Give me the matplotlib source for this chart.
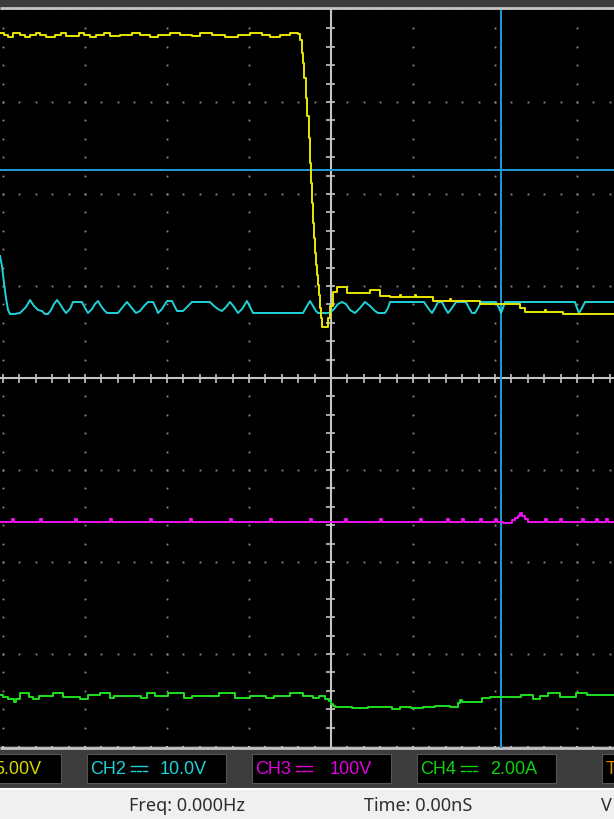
"""
capture d'ecran oscillo : 4 voies + curseurs, rendue en out.png (614x819)
"""
import numpy as np
import matplotlib
matplotlib.use("Agg")
import matplotlib.pyplot as plt
from matplotlib.patches import Rectangle

W, H = 614, 819
TRIG_IDX = 331          # echantillon au centre de l'ecran
SAMPLES_PER_DIV = 82
ZERO_ROW = 378          # ligne ecran du zero
COUNTS_PER_DIV = 92
TOP_ROW, BOTTOM_ROW = 10, 746

# couleurs
BG = "#3c3c3c"
YELLOW = "#e8e800"
CYAN = "#20d2d8"
MAGENTA = "#f010f0"
GREEN = "#20e020"
CURSOR = "#1e9bd7"
GRID = "#8c8c8c"
AXIS = "#c4c4c4"

# CH1 (jaune) : index echantillon / comptes au dessus du zero
ch1_idx = [0, 4, 8, 13, 20, 25, 30, 36, 40, 46, 55, 61, 66, 79, 84, 90, 96, 104, 110, 120,
           132, 140, 150, 158, 170, 180, 192, 200, 212, 225, 238, 250, 262, 270, 280, 290, 298,
           300, 302, 303, 304, 306, 307, 309, 310, 311, 312, 313, 314, 315, 316, 317, 318, 319,
           320, 321, 322, 328, 330, 333, 337, 347, 370, 380, 390, 400, 401, 415, 416, 433, 450,
           451, 480, 520, 525, 545, 546, 563, 614]
ch1_cnt = [345, 343, 341, 345, 343, 341, 343, 345, 343, 341, 343, 345, 342, 345, 343, 341, 343, 345, 342, 343,
           345, 343, 341, 343, 345, 343, 342, 345, 343, 341, 343, 345, 343, 341, 343, 345, 344,
           338, 325, 315, 300, 280, 262, 240, 215, 195, 175, 155, 140, 125, 113, 103, 93, 83,
           70, 60, 51, 60, 72, 86, 91, 85, 88, 82, 81, 83, 81, 83, 81, 77, 79,
           77, 74, 70, 66, 68, 66, 64, 64]

# CH2 (cyan)
ch2_idx = [0, 2, 4, 6, 8, 10, 14, 20, 22, 26, 30, 34, 38, 42, 45, 48, 51, 54, 57, 60, 63, 66, 70, 73, 82,
           85, 88, 92, 95, 98, 101, 104, 107, 118, 122, 127, 131, 136, 140, 144, 148, 153, 156, 158,
           162, 165, 167, 172, 175, 177, 183, 186, 190, 192, 210, 214, 218, 222, 226, 230, 234, 238,
           242, 247, 250, 253, 303, 307, 310, 313, 316, 318, 330, 334, 338, 342, 346, 350, 355, 360,
           365, 370, 375, 378, 385, 388, 390, 424, 428, 432, 435, 438, 442, 445, 448, 452, 456, 466,
           469, 472, 475, 478, 481, 496, 499, 501, 503, 505, 575, 577, 579, 582, 585, 614]
ch2_cnt = [122, 112, 95, 80, 68, 64, 64, 65, 67, 71, 78, 72, 68, 67, 64, 64, 68, 74, 78, 74, 69, 65, 69, 76, 76,
           70, 65, 69, 74, 77, 72, 68, 65, 65, 70, 76, 71, 65, 67, 72, 76, 76, 70, 65,
           69, 74, 77, 77, 71, 67, 67, 70, 74, 76, 76, 72, 69, 67, 71, 76, 71, 65,
           69, 77, 71, 65, 65, 72, 77, 72, 67, 65, 65, 69, 74, 76, 74, 68, 65, 70,
           76, 72, 67, 65, 65, 70, 76, 76, 70, 65, 70, 76, 76, 70, 65, 70, 76, 76,
           70, 65, 65, 70, 76, 76, 70, 65, 70, 76, 76, 70, 65, 70, 76, 76]

# CH3 (magenta)
ch3_idx = [0, 12, 14, 40, 42, 75, 77, 110, 112, 150, 152, 190, 192, 230, 232, 270, 272, 310, 312,
           345, 347, 380, 382, 420, 422, 447, 449, 462, 464, 480, 482, 495, 497, 503, 512, 515,
           518, 520, 522, 525, 528, 545, 547, 560, 562, 582, 584, 596, 598, 606, 608, 614]
ch3_cnt = [-144, -141, -144, -141, -144, -141, -144, -141, -144, -141, -144, -141, -144, -141, -144,
           -141, -144, -141, -144, -141, -144, -141, -144, -141, -144, -141, -144, -141, -144,
           -141, -144, -141, -144, -145, -142, -140, -138, -135, -138, -141, -144, -141, -144,
           -141, -144, -141, -144, -141, -144, -141, -144, -144]

# CH4 (vert)
ch4_idx = [0, 3, 8, 14, 16, 20, 29, 33, 39, 53, 63, 80, 88, 100, 110, 114, 141, 147, 155, 168,
           184, 192, 219, 235, 250, 266, 274, 290, 303, 313, 319, 325, 329, 331, 333, 335, 337,
           352, 368, 392, 400, 411, 423, 435, 450, 458, 460, 462, 482, 490, 521, 533, 540, 548,
           560, 576, 587, 614]
ch4_cnt = [-317, -319, -321, -324, -321, -315, -319, -321, -318, -315, -319, -321, -317, -315, -320,
           -318, -320, -315, -318, -315, -320, -318, -315, -320, -318, -320, -318, -315, -318, -320,
           -318, -321, -323, -326, -328, -329, -329, -330, -329, -331, -329, -330, -329, -328, -329,
           -325, -322, -324, -320, -319, -317, -321, -318, -315, -319, -315, -317, -317]

# curseurs
CURSOR_IDX = 501
CURSOR_CNT = 208

# reglages voies (bas de l'ecran)
ch_labels = ["CH2", "CH3", "CH4"]
ch_scales = ["10.0V", "100V", "2.00A"]
ch_colors = [CYAN, "#e000e0", "#10d010"]


def to_div(idx, cnt):
    t = (np.asarray(idx, float) - TRIG_IDX) / SAMPLES_PER_DIV
    v = np.asarray(cnt, float) / COUNTS_PER_DIV
    return t, v


fig = plt.figure(figsize=(W / 100, H / 100), dpi=100, facecolor=BG)

# fond / habillage en coordonnees pixel
bg = fig.add_axes([0, 0, 1, 1])
bg.set_xlim(0, W)
bg.set_ylim(H, 0)
bg.axis("off")

# ecran
ax = fig.add_axes([0, (H - BOTTOM_ROW) / H, 1, (BOTTOM_ROW - TOP_ROW) / H], facecolor="black")
ax.set_xlim(-TRIG_IDX / SAMPLES_PER_DIV, (W - TRIG_IDX) / SAMPLES_PER_DIV)
ax.set_ylim(-(BOTTOM_ROW - ZERO_ROW) / COUNTS_PER_DIV, (ZERO_ROW - TOP_ROW) / COUNTS_PER_DIV)
ax.set_xticks([])
ax.set_yticks([])
for s in ax.spines.values():
    s.set_visible(False)

# grille en pointilles
minor_x = np.arange(-21, 18) * 0.2
minor_y = np.arange(-19, 20) * 0.2
for j in range(-3, 4):
    if j == 0:
        continue
    ax.plot(minor_x, np.full_like(minor_x, j), ls="none", marker="s", ms=1.3,
            color=GRID, mew=0)
for k in range(-4, 4):
    if k == 0:
        continue
    ax.plot(np.full_like(minor_y, k), minor_y, ls="none", marker="s", ms=1.3,
            color=GRID, mew=0)

# axes centraux gradues
ax.axhline(0, color=AXIS, lw=1.5, zorder=2)
ax.axvline(0, color=AXIS, lw=1.5, zorder=2)
ax.vlines(minor_x, -4.5 / COUNTS_PER_DIV, 4.5 / COUNTS_PER_DIV, color=AXIS, lw=1.2, zorder=2)
ax.hlines(minor_y, -4.5 / SAMPLES_PER_DIV, 4.5 / SAMPLES_PER_DIV, color=AXIS, lw=1.2, zorder=2)

# curseurs
ax.axvline((CURSOR_IDX - TRIG_IDX) / SAMPLES_PER_DIV, color=CURSOR, lw=1.4, zorder=3)
ax.axhline(CURSOR_CNT / COUNTS_PER_DIV, color=CURSOR, lw=1.4, zorder=3)

# traces
t, v = to_div(ch4_idx, ch4_cnt)
ax.plot(t, v, color=GREEN, lw=1.4, drawstyle="steps-post", zorder=4)
t, v = to_div(ch3_idx, ch3_cnt)
ax.plot(t, v, color=MAGENTA, lw=1.4, drawstyle="steps-post", zorder=4)
t, v = to_div(ch2_idx, ch2_cnt)
ax.plot(t, v, color=CYAN, lw=1.4, zorder=4)
t, v = to_div(ch1_idx, ch1_cnt)
ax.plot(t, v, color=YELLOW, lw=1.4, drawstyle="steps-post", zorder=5)

# regles haut et bas
step = SAMPLES_PER_DIV / 5
tick_x = TRIG_IDX + np.arange(-21, 18) * step
major = (np.arange(-21, 18) % 5) == 0
bg.hlines(8, 0, W, color=AXIS, lw=2)
bg.vlines(tick_x[~major], 8, 12, color=AXIS, lw=1.2)
bg.vlines(tick_x[major], 8, 15, color=AXIS, lw=1.5)
bg.hlines(748, 0, W, color=AXIS, lw=2)
bg.vlines(tick_x[~major], 743, 748, color=AXIS, lw=1.2)
bg.vlines(tick_x[major], 740, 748, color=AXIS, lw=1.5)
bg.vlines(CURSOR_IDX, 740, 748, color=CURSOR, lw=1.5)

# cadres des voies (CH1 et le trigger sont coupes par le bord, comme a l'ecran)
FONT = "Liberation Sans"
bg.add_patch(Rectangle((-10, 754), 71, 29, facecolor="black", edgecolor="#555555", lw=0.8))
bg.text(41, 769, "5.00V", color="#d8d800", fontsize=13, family=FONT, ha="right", va="center")

box_x = [87, 252, 417]
for bx, lab, sc, col in zip(box_x, ch_labels, ch_scales, ch_colors):
    bg.add_patch(Rectangle((bx, 754), 139, 29, facecolor="black", edgecolor="#555555", lw=0.8))
    bg.text(bx + 3, 769, lab, color=col, fontsize=13, family=FONT, ha="left", va="center")
    sx = bx + 44
    bg.plot([sx, sx + 16], [766, 766], color=col, lw=1.0)
    for d in range(3):
        bg.plot([sx + d * 6, sx + d * 6 + 3.5], [770.5, 770.5], color=col, lw=1.0)
    bg.text(bx + 120, 769, sc, color=col, fontsize=13, family=FONT, ha="right", va="center")

bg.add_patch(Rectangle((602, 754), 40, 29, facecolor="black", edgecolor="#555555", lw=0.8))
bg.text(606, 769, "T", color="#e08a00", fontsize=13, family=FONT, ha="left", va="center")

# barre d'etat
bg.add_patch(Rectangle((0, 788), W, 31, facecolor="#f0f0f0", edgecolor="none"))
bg.hlines(789, 0, W, color="white", lw=1.5)
bg.text(129, 806, "Freq: 0.000Hz", color="#2e2e2e", fontsize=13, family="Noto Sans",
        ha="left", va="center")
bg.text(364, 806, "Time: 0.00nS", color="#2e2e2e", fontsize=13, family="Noto Sans",
        ha="left", va="center")
bg.text(601, 806, "V", color="#2e2e2e", fontsize=13, family="Noto Sans", ha="left", va="center")

fig.savefig("out.png", dpi=100, facecolor=BG)
